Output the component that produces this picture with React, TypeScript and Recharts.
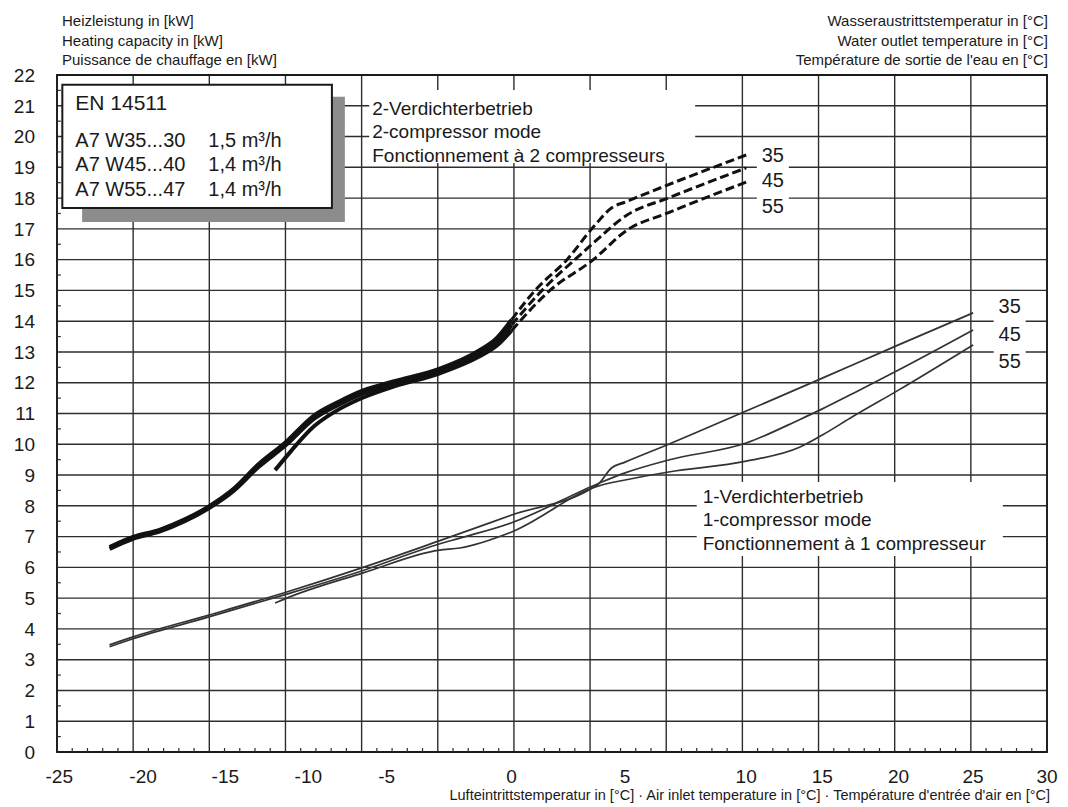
import { LineChart, Line, XAxis, YAxis, CartesianGrid, ReferenceArea, ReferenceLine, Customized } from "recharts";

const FONT = '"Liberation Sans", Arial, sans-serif';
const INK = "#1a1a1a";
const GRID = "#2e2e2e";

// The plot is a grid of 13 equal cells; the printed temperatures sit unevenly along it.
const X_TICK_VALUES = [-25, -20, -15, -10, -5, 0, 5, 10, 15, 20, 25, 30];
const X_TICK_SLOTS = [0.03, 1.13, 2.21, 3.3, 4.33, 5.97, 7.46, 9.05, 10.05, 11.05, 12.03, 13];
const GRID_SLOTS = [0, 1, 2, 3, 4, 5, 6, 7, 8, 9, 10, 11, 12, 13];
const Y_TICKS = [0, 1, 2, 3, 4, 5, 6, 7, 8, 9, 10, 11, 12, 13, 14, 15, 16, 17, 18, 19, 20, 21, 22];

// [air inlet °C, heating capacity kW]
const oneComp35 = [[-22, 3.48], [-20.6, 3.74], [-16, 4.45], [-11.3, 5.2], [-6.5, 6.0], [-2.9, 6.86], [0, 7.7], [3.8, 8.7], [4.4, 9.23], [5, 9.42], [6.8, 10.0], [10, 11.08], [15, 12.15], [20, 13.23], [25, 14.27]];
const oneComp45 = [[-22, 3.42], [-20.6, 3.68], [-16, 4.39], [-11.3, 5.13], [-6.5, 5.9], [-2.9, 6.76], [-2.07, 6.95], [0, 7.45], [3.8, 8.72], [5, 9.07], [6.8, 9.49], [10, 10.04], [13.5, 10.8], [15, 11.15], [16.8, 11.6], [20, 12.41], [25, 13.71]];
const oneComp55 = [[-12, 4.84], [-11.3, 5.0], [-6.5, 5.82], [-2.9, 6.56], [-2.07, 6.63], [0, 7.15], [3.8, 8.64], [5, 8.84], [6.8, 9.1], [10, 9.45], [13.5, 9.9], [15, 10.3], [17, 10.9], [20, 11.76], [25, 13.23]];

const twoComp35 = [[-22, 6.66], [-20.6, 6.99], [-19, 7.22], [-17.5, 7.55], [-16, 7.98], [-14.5, 8.55], [-13, 9.35], [-11.4, 10.05], [-9.6, 10.95], [-8, 11.4], [-6.5, 11.75], [-4.7, 12.05], [-2.9, 12.45], [-1.3, 13.05], [-0.6, 13.45], [0, 14.05]];
const twoComp45 = [[-22, 6.6], [-20.6, 6.93], [-19, 7.16], [-17.5, 7.49], [-16, 7.92], [-14.5, 8.48], [-13, 9.26], [-11.4, 9.95], [-9.6, 10.84], [-8, 11.3], [-6.5, 11.65], [-4.7, 11.96], [-2.9, 12.37], [-1.3, 12.95], [-0.6, 13.33], [0, 13.88]];
const twoComp55 = [[-12, 9.16], [-11.4, 9.55], [-9.6, 10.6], [-8, 11.15], [-6.5, 11.52], [-4.7, 11.88], [-2.9, 12.3], [-1.3, 12.85], [-0.6, 13.2], [0, 13.7]];

// 2-compressor range above 0 °C (dashed)
const twoCompExt35 = [[0, 14.05], [1.03, 15.0], [2.44, 16.0], [3.6, 17.06], [4.46, 17.71], [5, 17.87], [6.77, 18.43], [10, 19.4]];
const twoCompExt45 = [[0, 13.88], [1.34, 15.0], [3.01, 16.15], [3.6, 16.54], [5.08, 17.45], [6.77, 18.0], [10, 18.98]];
const twoCompExt55 = [[0, 13.7], [1.69, 15.0], [3.6, 16.0], [5.08, 16.96], [6.77, 17.52], [10, 18.52]];

const FLOW_TEMPS = ["35", "45", "55"];
const RATING_ROWS = [["A7 W35...30", "1,5 m³/h"], ["A7 W45...40", "1,4 m³/h"], ["A7 W55...47", "1,4 m³/h"]];

// minor ticks: 5 per grid cell along x, half-kW along y
const MINOR_X: number[] = [];
for (let c = 0; c < 13; c++) for (let s = 1; s < 5; s++) MINOR_X.push(c + s * 0.2);
const MINOR_Y: number[] = [];
for (let k = 0; k < 22; k++) MINOR_Y.push(k + 0.5);

// place a temperature on the grid by interpolating between printed ticks
const toSlot = (t: number) => {
  for (let i = 0; i < X_TICK_VALUES.length - 1; i++) {
    const a = X_TICK_VALUES[i];
    const b = X_TICK_VALUES[i + 1];
    if (t <= b || i === X_TICK_VALUES.length - 2) {
      return X_TICK_SLOTS[i] + ((t - a) / (b - a)) * (X_TICK_SLOTS[i + 1] - X_TICK_SLOTS[i]);
    }
  }
  return 0;
};

const series = (pts: number[][]) => pts.map(([t, kw]) => ({ x: toSlot(t), kw }));

const tickLabel = (v: number) => {
  const i = X_TICK_SLOTS.findIndex((s) => Math.abs(s - v) < 1e-6);
  return i >= 0 ? String(X_TICK_VALUES[i]) : "";
};

// vertical grid lines follow the equal cells, not the printed ticks
const gridColumns = ({ xAxis, offset }: any) =>
  GRID_SLOTS.map((v) =>
    xAxis && typeof xAxis.scale === "function" ? xAxis.scale(v) : offset.left + (v / 13) * offset.width
  );

type TextLine = { text: string; dx: number; dy: number; size: number; anchor?: "start" | "middle" | "end" };

const BlockText = ({ viewBox, lines }: { viewBox?: { x: number; y: number }; lines: TextLine[] }) => {
  if (!viewBox) return null;
  return (
    <g>
      {lines.map((l, i) => (
        <text key={i} x={viewBox.x + l.dx} y={viewBox.y + l.dy} fontSize={l.size} textAnchor={l.anchor ?? "start"} fill={INK} fontFamily={FONT}>
          {l.text}
        </text>
      ))}
    </g>
  );
};

const Headings = () => (
  <g fontFamily={FONT} fill={INK} fontSize={15}>
    <text x={54} y={18}>Heizleistung in [kW]</text>
    <text x={54} y={38}>Heating capacity in [kW]</text>
    <text x={54} y={57}>Puissance de chauffage en [kW]</text>
    <text x={1040} y={18} textAnchor="end">Wasseraustrittstemperatur in [°C]</text>
    <text x={1040} y={37.5} textAnchor="end">Water outlet temperature in [°C]</text>
    <text x={1040} y={57} textAnchor="end">Température de sortie de l'eau en [°C]</text>
    <text x={1042} y={792} textAnchor="end" fontSize={14.5}>
      Lufteintrittstemperatur in [°C] · Air inlet temperature in [°C] · Température d'entrée d'air en [°C]
    </text>
  </g>
);

const tagLines = (offsets: number[]): TextLine[] =>
  FLOW_TEMPS.map((t, i) => ({ text: t, dx: 16, dy: offsets[i], size: 20, anchor: "middle" }));

export default function App() {
  return (
    <LineChart width={1052} height={799} margin={{ top: 67, right: 13, bottom: 25, left: 0 }}>
      <CartesianGrid stroke={GRID} strokeWidth={1.4} verticalCoordinatesGenerator={gridColumns} />
      <XAxis
        type="number"
        dataKey="x"
        domain={[0, 13]}
        ticks={X_TICK_SLOTS}
        tickFormatter={tickLabel}
        interval={0}
        axisLine={false}
        tickLine={false}
        tickSize={0}
        tickMargin={18}
        height={30}
        allowDataOverflow
        tick={{ fontSize: 19, fill: INK, fontFamily: FONT }}
      />
      <YAxis
        type="number"
        domain={[0, 22]}
        ticks={Y_TICKS}
        interval={0}
        width={49}
        axisLine={false}
        tickLine={false}
        tickSize={0}
        tickMargin={22}
        tick={{ fontSize: 19, fill: INK, fontFamily: FONT }}
      />

      {MINOR_X.map((v) => (
        <ReferenceLine key={`mx${v}`} segment={[{ x: v, y: 0 }, { x: v, y: 0.13 }]} stroke={GRID} strokeWidth={1.2} />
      ))}
      {MINOR_Y.map((v) => (
        <ReferenceLine key={`my${v}`} segment={[{ x: 0, y: v }, { x: 0.05, y: v }]} stroke={GRID} strokeWidth={1.2} />
      ))}

      {/* rating box with drop shadow */}
      <ReferenceArea x1={0.33} x2={3.78} y1={17.22} y2={21.29} fill="#8c8c8c" fillOpacity={1} stroke="none" />
      <ReferenceArea
        x1={0.07}
        x2={3.61}
        y1={17.68}
        y2={21.68}
        fill="#fff"
        fillOpacity={1}
        stroke={INK}
        strokeWidth={2}
        label={
          <BlockText
            lines={[
              { text: "EN 14511", dx: 13, dy: 25, size: 21 },
              ...RATING_ROWS.flatMap(([a, b], i) => [
                { text: a, dx: 13, dy: 62 + i * 24.5, size: 20 },
                { text: b, dx: 146, dy: 62 + i * 24.5, size: 20 },
              ]),
            ]}
          />
        }
      />

      {/* white label panels over the grid */}
      <ReferenceArea
        x1={4.1}
        x2={8.38}
        y1={19.14}
        y2={21.51}
        fill="#fff"
        fillOpacity={1}
        stroke="none"
        label={
          <BlockText
            lines={[
              { text: "2-Verdichterbetrieb", dx: 3, dy: 25, size: 19 },
              { text: "2-compressor mode", dx: 3, dy: 48, size: 19 },
              { text: "Fonctionnement à 2 compresseurs", dx: 3, dy: 72, size: 19 },
            ]}
          />
        }
      />
      <ReferenceArea
        x1={8.4}
        x2={12.42}
        y1={6.37}
        y2={8.77}
        fill="#fff"
        fillOpacity={1}
        stroke="none"
        label={
          <BlockText
            lines={[
              { text: "1-Verdichterbetrieb", dx: 6, dy: 21, size: 19 },
              { text: "1-compressor mode", dx: 6, dy: 44, size: 19 },
              { text: "Fonctionnement à 1 compresseur", dx: 6, dy: 68, size: 19 },
            ]}
          />
        }
      />
      <ReferenceArea x1={9.19} x2={9.61} y1={17.45} y2={19.82} fill="#fff" fillOpacity={1} stroke="none" label={<BlockText lines={tagLines([20, 45, 71])} />} />
      <ReferenceArea x1={12.3} x2={12.72} y1={12.35} y2={14.85} fill="#fff" fillOpacity={1} stroke="none" label={<BlockText lines={tagLines([18, 46, 73])} />} />

      <ReferenceArea x1={0} x2={13} y1={0} y2={22} fill="none" stroke={INK} strokeWidth={1.8} />

      {[oneComp35, oneComp45, oneComp55].map((d, i) => (
        <Line key={`one${i}`} data={series(d)} dataKey="kw" type="monotone" stroke="#333" strokeWidth={1.7} dot={false} isAnimationActive={false} />
      ))}
      {[twoComp35, twoComp45, twoComp55].map((d, i) => (
        <Line key={`two${i}`} data={series(d)} dataKey="kw" type="monotone" stroke="#111" strokeWidth={4} dot={false} isAnimationActive={false} />
      ))}
      {[twoCompExt35, twoCompExt45, twoCompExt55].map((d, i) => (
        <Line key={`ext${i}`} data={series(d)} dataKey="kw" type="monotone" stroke="#111" strokeWidth={3} strokeDasharray="9 4" dot={false} isAnimationActive={false} />
      ))}

      <Customized component={Headings} />
    </LineChart>
  );
}
